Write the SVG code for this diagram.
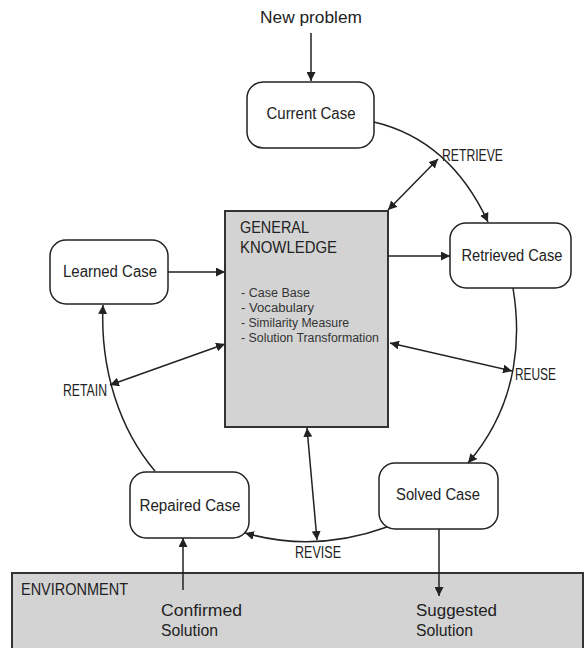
<svg xmlns="http://www.w3.org/2000/svg" width="585" height="648" viewBox="0 0 585 648">
<defs>
<style>
text{font-family:"Liberation Sans",Arial,sans-serif;fill:#222}
.node{fill:#fff;stroke:#222;stroke-width:1.5}
.gray{fill:#d3d3d3;stroke:#333;stroke-width:2}
.c{fill:none;stroke:#222;stroke-width:1.5}
.t{font-size:16px;text-anchor:middle}
.lbl{font-size:16.5px}
.env{font-size:16px}
.lst{font-size:12.5px;fill:#333}
.gk{font-size:16px}
</style>
<marker id="ah" viewBox="0 0 10 10" refX="10" refY="5" markerWidth="9" markerHeight="9" markerUnits="userSpaceOnUse" orient="auto-start-reverse">
<path d="M0,0 L10,5 L0,10 z" fill="#222"/>
</marker>
</defs>
<g id="environment">
<rect class="gray" x="12" y="573" width="571" height="90"/>
<text x="21" y="595" style="font-size:16.5px" textLength="107" lengthAdjust="spacingAndGlyphs">ENVIRONMENT</text>
<text class="env" x="161" y="616" textLength="81" lengthAdjust="spacingAndGlyphs">Confirmed</text>
<text class="env" x="161" y="636" textLength="57" lengthAdjust="spacingAndGlyphs">Solution</text>
<text class="env" x="416" y="616" textLength="81" lengthAdjust="spacingAndGlyphs">Suggested</text>
<text class="env" x="416" y="636" textLength="57" lengthAdjust="spacingAndGlyphs">Solution</text>
</g>
<g id="general-knowledge">
<rect class="gray" x="225" y="211" width="163" height="216"/>
<text class="gk" x="240" y="233" textLength="69" lengthAdjust="spacingAndGlyphs">GENERAL</text>
<text class="gk" x="240" y="253" textLength="97" lengthAdjust="spacingAndGlyphs">KNOWLEDGE</text>
<text class="lst" x="241" y="297" textLength="69" lengthAdjust="spacingAndGlyphs">- Case Base</text>
<text class="lst" x="241" y="312" textLength="73" lengthAdjust="spacingAndGlyphs">- Vocabulary</text>
<text class="lst" x="241" y="327" textLength="108" lengthAdjust="spacingAndGlyphs">- Similarity Measure</text>
<text class="lst" x="241" y="342" textLength="138" lengthAdjust="spacingAndGlyphs">- Solution Transformation</text>
</g>
<g id="new-problem"><text class="t" x="311" y="23" style="font-size:16.5px" textLength="102" lengthAdjust="spacingAndGlyphs">New problem</text></g>
<g id="current-case"><rect class="node" x="247" y="82" width="127" height="66" rx="16"/><text class="t" x="311" y="119" textLength="89" lengthAdjust="spacingAndGlyphs">Current Case</text></g>
<g id="retrieved-case"><rect class="node" x="450" y="223" width="121" height="65" rx="16"/><text class="t" x="512" y="261" textLength="101" lengthAdjust="spacingAndGlyphs">Retrieved Case</text></g>
<g id="learned-case"><rect class="node" x="50" y="240" width="118" height="64" rx="16"/><text class="t" x="110" y="277" textLength="94" lengthAdjust="spacingAndGlyphs">Learned Case</text></g>
<g id="solved-case"><rect class="node" x="379" y="463" width="119" height="66" rx="16"/><text class="t" x="438" y="500" textLength="84" lengthAdjust="spacingAndGlyphs">Solved Case</text></g>
<g id="repaired-case"><rect class="node" x="130" y="472" width="119" height="66" rx="16"/><text class="t" x="190" y="511" textLength="101" lengthAdjust="spacingAndGlyphs">Repaired Case</text></g>
<g id="connectors">
<line class="c" x1="311" y1="33" x2="311" y2="81" marker-end="url(#ah)"/>
<path class="c" d="M374,122 Q450,140 488,222" marker-end="url(#ah)"/>
<line class="c" x1="388" y1="210" x2="438" y2="159" marker-start="url(#ah)" marker-end="url(#ah)"/>
<line class="c" x1="388" y1="256" x2="450" y2="256" marker-end="url(#ah)"/>
<path class="c" d="M513,288 C520,330 522,400 468,463" marker-end="url(#ah)"/>
<line class="c" x1="390" y1="343" x2="512" y2="371" marker-start="url(#ah)" marker-end="url(#ah)"/>
<path class="c" d="M387,527 Q315,553 245,533" marker-end="url(#ah)"/>
<line class="c" x1="307" y1="428" x2="317" y2="540" marker-start="url(#ah)" marker-end="url(#ah)"/>
<path class="c" d="M155,471 C120,430 100,370 103,305" marker-end="url(#ah)"/>
<line class="c" x1="225" y1="344" x2="110" y2="385" marker-start="url(#ah)" marker-end="url(#ah)"/>
<line class="c" x1="168" y1="272" x2="225" y2="272" marker-end="url(#ah)"/>
<line class="c" x1="183" y1="590" x2="183" y2="538" marker-end="url(#ah)"/>
<line class="c" x1="439" y1="529" x2="439" y2="596" marker-end="url(#ah)"/>
</g>
<g id="labels">
<text class="lbl" x="442" y="161" textLength="61" lengthAdjust="spacingAndGlyphs">RETRIEVE</text>
<text class="lbl" x="515" y="380" textLength="41" lengthAdjust="spacingAndGlyphs">REUSE</text>
<text class="lbl" x="295" y="558" textLength="46" lengthAdjust="spacingAndGlyphs">REVISE</text>
<text class="lbl" x="63" y="396" textLength="44" lengthAdjust="spacingAndGlyphs">RETAIN</text>
</g>
</svg>
